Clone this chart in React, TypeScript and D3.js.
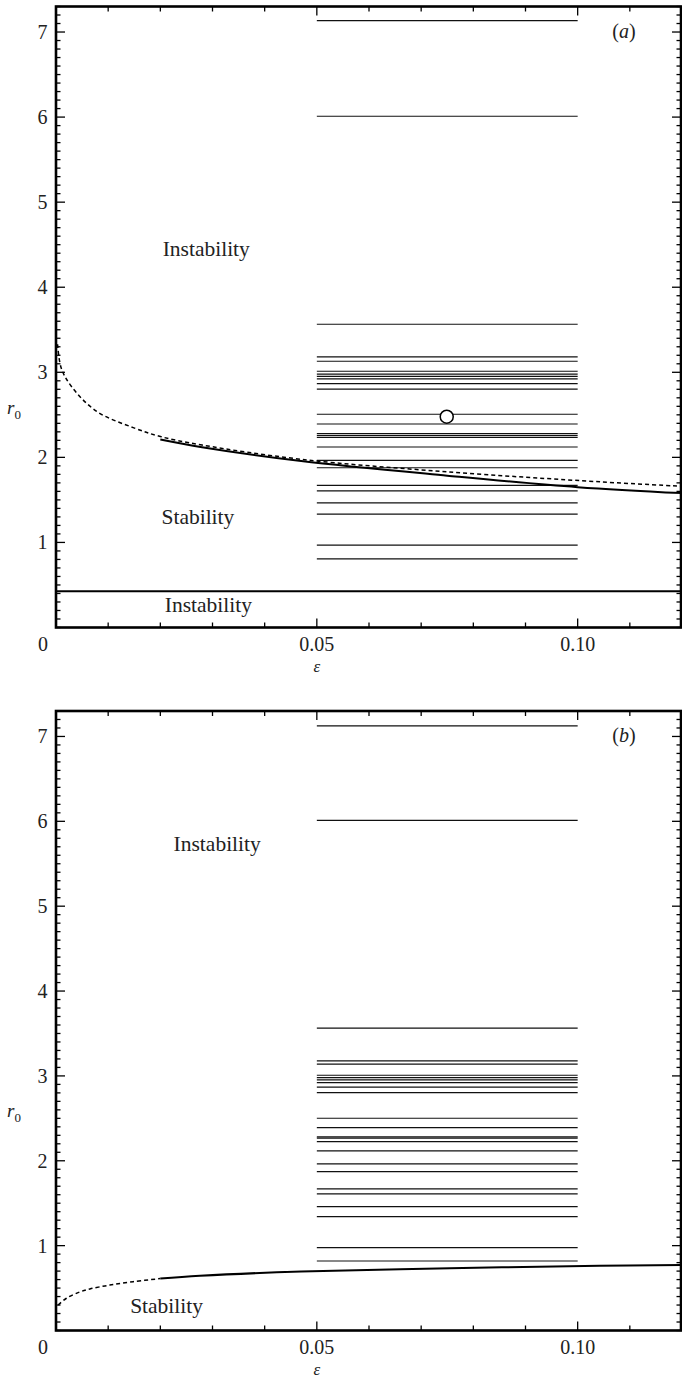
import React from 'react';
import * as d3 from 'd3';

const W = 682;
const H = 1378;

// axes
const X_DOMAIN: [number, number] = [0, 0.12];
const Y_DOMAIN: [number, number] = [0, 7.3];
const xMajorTicks = [0.05, 0.1];
const xTickLabels = ['0.05', '0.10'];
const yMajorTicks = [1, 2, 3, 4, 5, 6, 7];
const yTickLabels = ['1', '2', '3', '4', '5', '6', '7'];

// horizontal segments (eps from 0.05 to 0.10)
const segmentRange: [number, number] = [0.05, 0.1];
const levelsA = [7.133, 6.01, 3.565, 3.182, 3.13, 3.012, 2.978, 2.953, 2.922, 2.867, 2.803, 2.507, 2.392, 2.28, 2.257, 2.235, 2.122, 1.965, 1.878, 1.67, 1.605, 1.464, 1.333, 0.968, 0.806];
const levelsB = [7.124, 6.01, 3.562, 3.177, 3.138, 3.008, 2.98, 2.953, 2.921, 2.867, 2.803, 2.501, 2.391, 2.281, 2.266, 2.226, 2.116, 1.963, 1.872, 1.668, 1.611, 1.459, 1.342, 0.976, 0.819];

// curves (eps, r0)
const dashedA: [number, number][] = [
  [0.0003, 3.33], [0.001, 3.05], [0.003, 2.83], [0.0078, 2.54], [0.0148, 2.35], [0.02, 2.245],
  [0.028, 2.145], [0.047, 1.977], [0.075, 1.83], [0.1044, 1.712], [0.12, 1.66],
];
const solidA: [number, number][] = [
  [0.02, 2.21], [0.028, 2.12], [0.047, 1.957], [0.075, 1.785], [0.1, 1.65], [0.12, 1.58],
];
const lowerA: [number, number][] = [[0, 0.425], [0.12, 0.425]];
const circleA: [number, number] = [0.0749, 2.478];

const dashedB: [number, number][] = [
  [0.0004, 0.3], [0.002, 0.38], [0.0046, 0.455], [0.0065, 0.49], [0.0103, 0.535],
  [0.0148, 0.575], [0.02, 0.612],
];
const solidB: [number, number][] = [
  [0.02, 0.612], [0.0276, 0.645], [0.047, 0.695], [0.0755, 0.733], [0.1042, 0.762], [0.12, 0.772],
];

// region labels: [text, eps, r0]
const labelsA: [string, number, number][] = [
  ['Instability', 0.0288, 4.46],
  ['Stability', 0.0272, 1.31],
  ['Instability', 0.0292, 0.265],
];
const labelsB: [string, number, number][] = [
  ['Instability', 0.0309, 5.74],
  ['Stability', 0.0212, 0.3],
];

const FONT = "'Liberation Serif', 'DejaVu Serif', 'Times New Roman', serif";

type PanelProps = {
  yBottom: number;
  yTop: number;
  levels: number[];
  dashed: [number, number][];
  solid: [number, number][][];
  labels: [string, number, number][];
  tag: string;
  circle?: [number, number];
};

function Panel({ yBottom, yTop, levels, dashed, solid, labels, tag, circle }: PanelProps) {
  const x = d3.scaleLinear().domain(X_DOMAIN).range([56, 682]);
  const y = d3.scaleLinear().domain(Y_DOMAIN).range([yBottom, yTop]);
  const line = d3
    .line<[number, number]>()
    .x((d) => x(d[0]))
    .y((d) => y(d[1]))
    .curve(d3.curveCatmullRom.alpha(0.5));

  const left = x(0);
  const right = 681;
  const top = y(Y_DOMAIN[1]);
  const bottom = y(0);

  const xMinor = x.ticks(12);
  const yMinor = y.ticks(73);
  const isMajorX = (v: number) => xMajorTicks.some((m) => Math.abs(m - v) < 1e-9);
  const isMajorY = (v: number) => yMajorTicks.some((m) => Math.abs(m - v) < 1e-9);

  return (
    <g>
      {levels.map((lv, i) => (
        <line
          key={'lv' + i}
          x1={x(segmentRange[0])}
          x2={x(segmentRange[1])}
          y1={y(lv)}
          y2={y(lv)}
          stroke="#111"
          strokeWidth={1.2}
        />
      ))}
      <path d={line(dashed) || ''} fill="none" stroke="#000" strokeWidth={1.5} strokeDasharray="4 3" />
      {solid.map((s, i) => (
        <path key={'s' + i} d={line(s) || ''} fill="none" stroke="#000" strokeWidth={2} />
      ))}
      {circle && (
        <circle cx={x(circle[0])} cy={y(circle[1])} r={6.5} fill="#fff" stroke="#000" strokeWidth={1.5} />
      )}
      {xMinor.map((v, i) => {
        const len = isMajorX(v) ? 9 : 5;
        return (
          <g key={'xt' + i}>
            <line x1={x(v)} x2={x(v)} y1={bottom} y2={bottom - len} stroke="#000" strokeWidth={1.3} />
            <line x1={x(v)} x2={x(v)} y1={top} y2={top + len} stroke="#000" strokeWidth={1.3} />
          </g>
        );
      })}
      {yMinor.map((v, i) => {
        const len = isMajorY(v) ? 9 : 4.5;
        return (
          <g key={'yt' + i}>
            <line x1={left} x2={left + len} y1={y(v)} y2={y(v)} stroke="#000" strokeWidth={1.3} />
            <line x1={right} x2={right - len} y1={y(v)} y2={y(v)} stroke="#000" strokeWidth={1.3} />
          </g>
        );
      })}
      <rect x={left} y={top} width={right - left} height={bottom - top} fill="none" stroke="#000" strokeWidth={2.6} />
      {xMajorTicks.map((v, i) => (
        <text key={'xl' + i} x={x(v)} y={bottom + 23} textAnchor="middle" fontSize={20} fontFamily={FONT} fill="#222">
          {xTickLabels[i]}
        </text>
      ))}
      <text x={43} y={bottom + 23} textAnchor="middle" fontSize={20} fontFamily={FONT} fill="#222">0</text>
      {yMajorTicks.map((v, i) => (
        <text key={'yl' + i} x={47.5} y={y(v)} dy="0.35em" textAnchor="end" fontSize={20} fontFamily={FONT} fill="#222">
          {yTickLabels[i]}
        </text>
      ))}
      <text x={x(0.05)} y={bottom + 44} textAnchor="middle" fontSize={17} fontFamily={FONT} fontStyle="italic" fill="#222">ε</text>
      <text x={7} y={y(2.56)} dy="0.2em" fontSize={19} fontFamily={FONT} fill="#222">
        <tspan fontStyle="italic">r</tspan>
        <tspan fontSize={13} dy="5">0</tspan>
      </text>
      {labels.map((l, i) => (
        <text key={'rl' + i} x={x(l[1])} y={y(l[2])} dy="0.35em" textAnchor="middle" fontSize={21.5} fontFamily={FONT} fill="#222">
          {l[0]}
        </text>
      ))}
      <text x={624} y={top + 31} textAnchor="middle" fontSize={20} fontFamily={FONT} fill="#222">
        (<tspan fontStyle="italic">{tag}</tspan>)
      </text>
    </g>
  );
}

export default function App() {
  return (
    <svg
      width={W}
      height={H}
      viewBox={`0 0 ${W} ${H}`}
      style={{ position: 'absolute', left: 0, top: 0, background: '#fff' }}
    >
      <rect width={W} height={H} fill="#fff" />
      <Panel
        yBottom={627.5}
        yTop={6.5}
        levels={levelsA}
        dashed={dashedA}
        solid={[solidA, lowerA]}
        labels={labelsA}
        tag="a"
        circle={circleA}
      />
      <Panel
        yBottom={1330.5}
        yTop={711}
        levels={levelsB}
        dashed={dashedB}
        solid={[solidB]}
        labels={labelsB}
        tag="b"
      />
    </svg>
  );
}
